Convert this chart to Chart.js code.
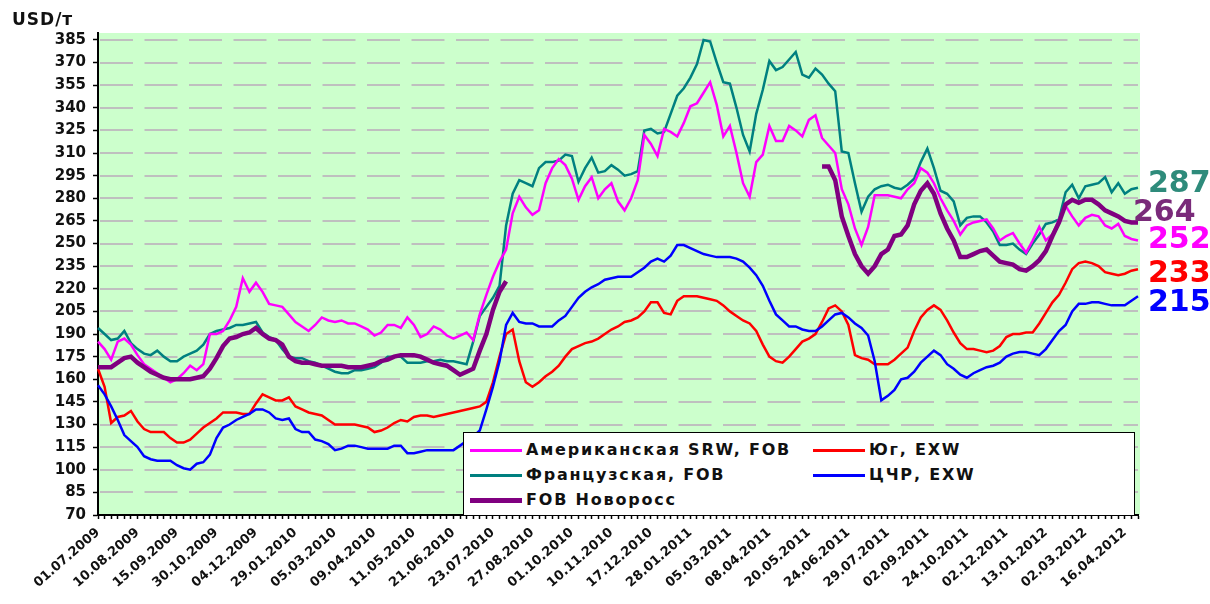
<!DOCTYPE html>
<html>
<head>
<meta charset="utf-8">
<script src="https://cdn.jsdelivr.net/npm/chart.js@4.4.0/dist/chart.umd.min.js"></script>
<style>
  html, body { margin: 0; padding: 0; background: #fff; }
  #wrap { position: relative; width: 1210px; height: 604px; }
  #unit { position: absolute; left: 12px; top: 9px; font: bold 17px "DejaVu Sans"; letter-spacing: 1px; color: #111; }
  #legend { position: absolute; left: 463px; top: 432px; width: 672px; height: 84px; background: #fff;
            border: 1.5px solid #000; box-sizing: border-box; font: bold 16px "DejaVu Sans";
            letter-spacing: 1.8px; color: #111; }
  .item { position: absolute; height: 20px; line-height: 20px; white-space: nowrap; }
  .item i { display: inline-block; vertical-align: middle; margin-right: 4px; }
</style>
</head>
<body>
<div id="wrap">
  <canvas id="grain-chart" width="1210" height="604"></canvas>
  <div id="unit">USD/т</div>
  <div id="legend"></div>
</div>
<script>
// dates under every 6th point
var tickDates = ["01.07.2009", "10.08.2009", "15.09.2009", "30.10.2009", "04.12.2009", "29.01.2010",
    "05.03.2010", "09.04.2010", "11.05.2010", "21.06.2010", "23.07.2010", "27.08.2010", "01.10.2010",
    "10.11.2010", "17.12.2010", "28.01.2011", "05.03.2011", "08.04.2011", "20.05.2011", "24.06.2011",
    "29.07.2011", "02.09.2011", "24.10.2011", "02.12.2011", "13.01.2012", "02.03.2012", "16.04.2012"];
var pointsPerTick = 6;
var pointCount = 159;
var yTicks = [70, 85, 100, 115, 130, 145, 160, 175, 190, 205, 220, 235, 250, 265, 280, 295, 310, 325, 340, 355, 370, 385];

var usSrw = [
    185, 180, 173, 185, 187, 183, 176, 170, 167, 164,
    161, 158, 160, 164, 169, 166, 170, 190, 190, 192,
    199, 208, 227, 218, 224, 218, 210, 209, 208, 203,
    198, 195, 192, 196, 201, 199, 198, 199, 197, 197,
    195, 193, 189, 191, 196, 196, 194, 201, 196, 188,
    190, 195, 193, 189, 187, 189, 191, 186, 203, 216,
    228, 238, 246, 270, 281, 274, 269, 272, 290, 300,
    306, 302, 293, 279, 288, 294, 280, 286, 290, 278,
    272, 280, 292, 322, 316, 308, 326, 324, 321, 330,
    341, 343, 350, 357, 342, 321, 328, 310, 290, 281,
    304, 309, 328, 318, 318, 328, 325, 321, 332, 335,
    320, 315, 310, 286, 276, 260, 249, 261, 282, 282,
    282, 281, 280, 286, 290, 300, 297, 290, 280, 272,
    265, 256, 262, 264, 265, 266, 260, 252, 255, 257,
    250, 244, 252, 261, 252, 256, 266, 275, 268, 262,
    267, 269, 268, 262, 260, 263, 255, 253, 252];

var french = [
    194, 190, 186, 187, 192, 184, 180, 177, 176, 179,
    175, 172, 172, 175, 177, 179, 183, 190, 192, 193,
    194, 196, 196, 197, 198, 191, 188, 186, 180, 175,
    174, 174, 172, 171, 169, 167, 165, 164, 164, 166,
    166, 167, 168, 171, 175, 175, 175, 171, 171, 171,
    172, 172, 173, 172, 172, 171, 170, 185, 202, 208,
    214, 222, 262, 283, 292, 290, 288, 300, 304, 304,
    305, 309, 308, 291, 300, 307, 297, 298, 302, 299,
    295, 296, 298, 325, 326, 323, 324, 336, 348, 353,
    360, 369, 385, 384, 370, 357, 356, 340, 322, 311,
    336, 352, 371, 365, 367, 372, 377, 362, 360, 366,
    362, 356, 351, 311, 310, 290, 271, 281, 286, 288,
    289, 287, 286, 289, 293, 304, 313, 300, 285, 283,
    278, 262, 267, 268, 268, 264, 258, 249, 249, 250,
    246, 243, 250, 256, 263, 264, 266, 284, 289, 280,
    288, 289, 290, 294, 284, 290, 283, 286, 287];

var fobNovoross = [
    168, 168, 168, 171, 174, 175, 171, 168, 165, 163,
    161, 160, 160, 160, 160, 161, 162, 167, 174, 182,
    187, 188, 190, 191, 194, 190, 187, 186, 183, 175,
    172, 171, 171, 170, 169, 169, 169, 169, 168, 168,
    168, 169, 170, 172, 173, 175, 176, 176, 176, 175,
    173, 171, 170, 169, 166, 163, 165, 167, 179, 190,
    206, 218, 225, null, null, null, null, null, null, null,
    null, null, null, null, null, null, null, null, null, null,
    null, null, null, null, null, null, null, null, null, null,
    null, null, null, null, null, null, null, null, null, null,
    null, null, null, null, null, null, null, null, null, null,
    301, 301, 292, 268, 255, 243, 235, 230, 235, 243,
    246, 255, 256, 262, 276, 285, 290, 283, 270, 260,
    252, 241, 241, 243, 245, 246, 242, 238, 237, 236,
    233, 232, 235, 239, 245, 255, 264, 276, 279, 277,
    279, 279, 276, 272, 270, 268, 265, 264, 264];

var southExw = [
    167, 155, 131, 135, 136, 139, 132, 127, 125, 125,
    125, 121, 118, 118, 120, 124, 128, 131, 134, 138,
    138, 138, 137, 137, 144, 150, 148, 146, 146, 148,
    142, 140, 138, 137, 136, 133, 130, 130, 130, 130,
    129, 128, 125, 126, 128, 131, 133, 132, 135, 136,
    136, 135, 136, 137, 138, 139, 140, 141, 142, 145,
    158, 175, 190, 193, 172, 158, 155, 158, 162, 165,
    169, 175, 180, 182, 184, 185, 187, 190, 193, 195,
    198, 199, 201, 205, 211, 211, 204, 203, 212, 215,
    215, 215, 214, 213, 212, 209, 205, 202, 199, 197,
    192, 183, 175, 172, 171, 175, 180, 185, 187, 190,
    198, 207, 209, 205, 196, 176, 174, 173, 170, 170,
    170, 173, 177, 181, 192, 201, 206, 209, 206, 199,
    191, 184, 180, 180, 179, 178, 179, 182, 188, 190,
    190, 191, 191, 197, 204, 211, 216, 224, 233, 237,
    238, 237, 235, 231, 230, 229, 230, 232, 233];

var centralExw = [
    156, 150, 142, 133, 123, 119, 115, 109, 107, 106,
    106, 106, 103, 101, 100, 104, 105, 110, 121, 128,
    130, 133, 135, 137, 140, 140, 138, 134, 133, 134,
    127, 125, 125, 120, 119, 117, 113, 114, 116, 116,
    115, 114, 114, 114, 114, 116, 116, 111, 111, 112,
    113, 113, 113, 113, 113, 116, 119, 122, 126, 140,
    155, 172, 196, 204, 198, 197, 197, 195, 195, 195,
    199, 202, 208, 214, 218, 221, 223, 226, 227, 228,
    228, 228, 231, 234, 238, 240, 238, 242, 249, 249,
    247, 245, 243, 242, 241, 241, 241, 240, 238, 234,
    229, 222, 212, 203, 199, 195, 195, 193, 192, 192,
    195, 199, 203, 204, 201, 197, 194, 189, 172, 146,
    149, 153, 160, 161, 165, 171, 175, 179, 176, 170,
    167, 163, 161, 164, 166, 168, 169, 171, 175, 177,
    178, 178, 177, 176, 180, 186, 192, 196, 205, 210,
    210, 211, 211, 210, 209, 209, 209, 212, 215];

var categories = [];
for (var i = 0; i < pointCount; i++) {
    categories.push(i % pointsPerTick === 0 ? (tickDates[i / pointsPerTick] || '') : '');
}

var series = [
    { label: "Американская SRW, FOB", data: usSrw, color: "#FF00FF", width: 2.5, order: 3, end: "#FF00FF", shift: 0, dx: 10 },
    { label: "Французская, FOB", data: french, color: "#008080", width: 2.5, order: 4, end: "#2E8B7B", shift: -4, dx: 10 },
    { label: "FOB Новоросс", data: fobNovoross, color: "#800080", width: 4.5, order: 0, end: "#7A2A7A", shift: -9, dx: -5 },
    { label: "Юг, EXW", data: southExw, color: "#FF0000", width: 2.5, order: 2, end: "#FF0000", shift: 5, dx: 10 },
    { label: "ЦЧР, EXW", data: centralExw, color: "#0000FF", width: 2.5, order: 1, end: "#0000FF", shift: 7, dx: 10 }
];

// green plot background + dashed grey gridlines at the y ticks
var plotBg = {
    id: 'plotBg',
    beforeDatasetsDraw: function(chart) {
        var a = chart.chartArea, c = chart.ctx, y = chart.scales.y;
        c.save();
        c.strokeStyle = '#BFBFBF';
        c.lineWidth = 2;
        c.setLineDash([33, 11.5]);
        c.lineDashOffset = -2;
        y.ticks.forEach(function(t) {
            var py = Math.round(y.getPixelForValue(t.value));
            if (t.value === yTicks[0]) return;
            c.beginPath();
            c.moveTo(a.left, py);
            c.lineTo(a.right, py);
            c.stroke();
        });
        c.restore();
    },
    beforeDraw: function(chart) {
        var a = chart.chartArea, c = chart.ctx;
        c.save();
        c.fillStyle = '#CCFFCC';
        c.fillRect(a.left, a.top, a.right - a.left + 2, a.bottom - a.top);
        c.restore();
    }
};

// last values at the right edge
var endLabels = {
    id: 'endLabels',
    afterDraw: function(chart) {
        var c = chart.ctx, y = chart.scales.y, a = chart.chartArea;
        c.save();
        c.font = 'bold 30px "DejaVu Sans"';
        c.textBaseline = 'middle';
        series.forEach(function(s) {
            var v = s.data[s.data.length - 1];
            c.fillStyle = s.end;
            c.fillText(String(v), a.right + s.dx, y.getPixelForValue(v) + s.shift);
        });
        c.restore();
    }
};

var ctx = document.getElementById("grain-chart").getContext('2d');
var chart = new Chart(ctx, {
    type: 'line',
    data: {
        labels: categories,
        datasets: series.map(function(s) {
            return {
                label: s.label,
                data: s.data,
                borderColor: s.color,
                backgroundColor: s.color,
                borderWidth: s.width,
                order: s.order,
                pointRadius: 0,
                tension: 0,
                spanGaps: false
            };
        })
    },
    options: {
        responsive: false,
        animation: false,
        layout: { padding: { top: 33, right: 72, bottom: 0, left: 0 } },
        plugins: { legend: { display: false }, tooltip: { enabled: false } },
        scales: {
            x: {
                offset: false,
                grid: { display: true, drawOnChartArea: false, tickLength: 4, tickColor: '#000', tickWidth: 1.5 },
                border: { display: true, color: '#000', width: 2 },
                ticks: {
                    autoSkip: false, minRotation: 41, maxRotation: 41, padding: 6, color: '#111',
                    font: { family: 'DejaVu Sans', weight: 'bold', size: 13 }
                },
                afterFit: function(s) { s.height = 89; }
            },
            y: {
                min: 70,
                max: 389.6,
                afterBuildTicks: function(s) { s.ticks = yTicks.map(function(v) { return { value: v }; }); },
                grid: { drawOnChartArea: false, tickColor: '#000', tickLength: 5, tickWidth: 1.5 },
                border: { display: true, color: '#000', width: 2 },
                ticks: { padding: 7, color: '#111', font: { family: 'DejaVu Sans', weight: 'bold', size: 15 } },
                afterFit: function(s) { s.width = 98; }
            }
        }
    },
    plugins: [plotBg, endLabels]
});

// legend box inside the plot, two columns like the original
var legendPos = [[6, 7], [6, 32], [6, 57], [349, 7], [349, 32]];
var box = document.getElementById('legend');
series.forEach(function(s, n) {
    var el = document.createElement('div');
    el.className = 'item';
    el.style.left = legendPos[n][0] + 'px';
    el.style.top = legendPos[n][1] + 'px';
    el.innerHTML = '<i style="width:52px;height:' + (s.width > 3 ? 5 : 3) + 'px;background:' + s.color + '"></i>' + s.label;
    box.appendChild(el);
});
</script>
</body>
</html>
